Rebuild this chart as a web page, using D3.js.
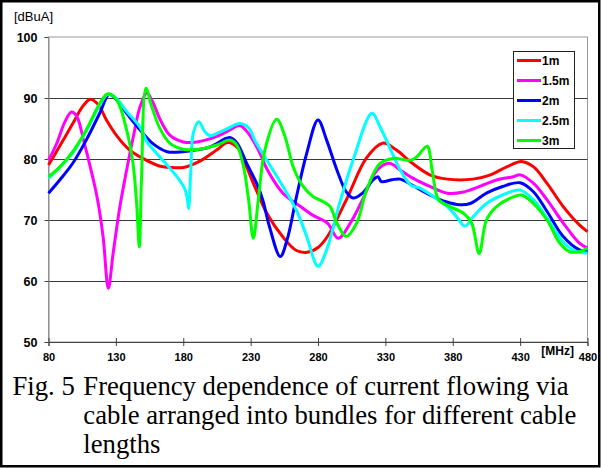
<!DOCTYPE html>
<html>
<head>
<meta charset="utf-8">
<script src="https://cdn.jsdelivr.net/npm/d3@7"></script>
<style>
    body { margin: 0; background: #fff; }
    svg { display: block; }
</style>
</head>
<body>
<svg id="chart"></svg>
<script>
// krivulje očitane sa slike: [frekvencija MHz, struja dBuA]
const series1m = [[80,79],[88,82],[98,85.8],[105,88.5],[111,89.8],[117,88.9],[123,86.4],[131,83.7],[140,81.5],[150,80.1],[163,78.8],[172,78.6],[180,78.6],[192,79.6],[205,81.5],[213,82.7],[221,81.7],[227,78.7],[234,75],[242,71.1],[254,67.2],[264,65],[272,64.7],[280,65.5],[287,67.3],[301,73.3],[316,80.2],[328,82.6],[338,81.5],[350,79.3],[363,77.4],[376,76.7],[395,76.7],[408,77.4],[420,78.7],[431,79.6],[440,78.7],[450,76],[462,72.2],[474,69.2],[480,68.1]];
const series15m = [[80,79.8],[86,82.5],[92,86],[97,87.7],[101,87],[106,83.1],[111,78.7],[116,73.8],[120.5,67.3],[124.4,58.8],[128,64.6],[133,72.2],[138,78.2],[143,83.7],[148,88.6],[153,90.8],[157,89.5],[163,86.4],[170,83.9],[180,82.8],[190,82.8],[205,83.7],[215,84.8],[222,85.5],[229,84],[237,80.9],[242,78.4],[254,74.4],[267,72.2],[276,70.8],[287,69.5],[295,67],[304,69.5],[313,73.3],[324,78.2],[333,79.3],[341,78.2],[350,76.9],[363,75.5],[376,74.4],[388,74.6],[400,75.5],[413,76.6],[425,77.1],[430,77.4],[440,76],[450,73.3],[462,69.5],[474,66.2],[480,65.4]];
const series2m = [[80,74.4],[88.5,76.6],[98,79.3],[108,83.1],[118,87.5],[125,90.6],[130,89.8],[138,87.5],[148,84.75],[157,82.6],[168,81.2],[180,81.2],[190,81.5],[200,82],[212,83.4],[215,83.5],[220,82.6],[227,79.3],[234.5,76],[239,73.3],[244,68.9],[252,64],[257,66.7],[264,73.8],[271.6,80.9],[280,86.4],[286.4,83.1],[294,78.2],[301,74.6],[306,73.6],[313,74.4],[321,76.6],[324.5,77.1],[327,76.3],[335,76.6],[341,76.7],[350,75.7],[363,74.1],[375,73],[385,72.5],[393,72.7],[405,74.4],[417,75.5],[430,76.1],[440,74.6],[450,71.4],[462,67.3],[474,65.1],[480,64.8]];
const series25m = [[80,76.8],[88.5,78.7],[98,81],[108,84.6],[118,88.8],[124,90.6],[130,90],[138,87.8],[148,85.2],[153,82.8],[160,81],[170,78.5],[177,76.6],[181,75.2],[183,73.5],[184,71.9],[185.5,77.6],[187.5,84.3],[191.5,86.1],[196,84.5],[200,83.8],[205,84.2],[213,85],[222,85.8],[229,85],[233,83.1],[242,79.8],[254,75.5],[264,71.6],[271.6,67.3],[280,62.4],[286.4,65.1],[296,72.7],[306,79.8],[320,87.5],[326,85.3],[333,82],[341,78.2],[349,75.7],[356,75.2],[366,73.8],[376,72.2],[383,70.5],[389,69],[395,70.5],[405,72.7],[417,74.1],[430,74.9],[440,73.3],[450,70.3],[462,66.4],[472,64.8],[480,64.6]];
const series3m = [[80,77.1],[88.5,78.7],[98,81.2],[108,84.75],[118,89.1],[124,90.7],[130.6,89.7],[138,84.75],[142.7,79.3],[145.4,72.7],[147.4,65.6],[149,76.6],[152.3,91.6],[156.6,88.6],[162.7,85],[170,82.6],[180,81.6],[192,81.6],[205,82.3],[214.7,83.1],[219.6,82.3],[224.5,79],[228.4,73.5],[232,67],[235.7,73.3],[240.6,81.5],[249.3,86.5],[255.5,83.7],[261.6,78.7],[269,75.5],[276.5,73.8],[284,73],[289,72.2],[294,69.5],[301,67.3],[308.7,69.5],[316,74.9],[326,79.3],[336,80.1],[348.6,79.8],[353.5,80.4],[361,82.1],[364.7,78.2],[369.6,73.3],[378,72.2],[388,71.1],[394,69.5],[399.6,64.5],[405,70],[412.5,72.2],[425,73.8],[431,74.1],[440,72.7],[450,70],[459.5,66.2],[467,64.8],[474,64.8],[480,65.4]];

const seriesNames = ['1m', '1.5m', '2m', '2.5m', '3m'];
const seriesColors = ['#ff0000', '#ff00ff', '#0000ff', '#00ffff', '#00ff00'];
const xTicks = [80, 130, 180, 230, 280, 330, 380, 430, 480];
const yTicks = [50, 60, 70, 80, 90, 100];
const captionLines = [
    'Frequency dependence of current flowing via',
    'cable arranged into bundles for different cable',
    'lengths'
];

const allSeries = [series1m, series15m, series2m, series25m, series3m];

const W = 601, H = 468;
const plotLeft = 48.5, plotRight = 587.5, plotTop = 37, plotBottom = 342;

const svg = d3.select('#chart')
    .attr('width', W)
    .attr('height', H);

svg.append('rect')
    .attr('x', 1.25).attr('y', 1.25)
    .attr('width', W - 3).attr('height', H - 3)
    .attr('fill', '#fff')
    .attr('stroke', '#000')
    .attr('stroke-width', 2.5);

const x = d3.scaleLinear().domain([80, 480]).range([plotLeft, plotRight]);
const y = d3.scaleLinear().domain([50, 100]).range([plotBottom, plotTop]);

// okvir površine grafa
svg.append('rect')
    .attr('x', plotLeft).attr('y', plotTop)
    .attr('width', plotRight - plotLeft).attr('height', plotBottom - plotTop)
    .attr('fill', 'none')
    .attr('stroke', '#999')
    .attr('stroke-width', 1);

// mreža
svg.selectAll('.grid')
    .data(yTicks.filter(d => d > 50 && d < 100))
    .enter()
    .append('line')
    .attr('class', 'grid')
    .attr('x1', plotLeft).attr('x2', plotRight)
    .attr('y1', d => Math.round(y(d)) + 0.5)
    .attr('y2', d => Math.round(y(d)) + 0.5)
    .attr('stroke', '#3a3a3a')
    .attr('stroke-width', 1);

// y os
const yAxis = svg.append('g')
    .attr('transform', `translate(${plotLeft},0)`)
    .call(d3.axisLeft(y).tickValues(yTicks).tickSize(4).tickPadding(7).tickFormat(d3.format('d')));
yAxis.select('.domain').attr('stroke', '#888');
yAxis.selectAll('.tick line').attr('stroke', '#444');
yAxis.selectAll('text')
    .attr('font-family', 'Liberation Sans, Arial, sans-serif')
    .attr('font-size', 12.5)
    .attr('font-weight', 'bold')
    .attr('fill', '#000');

// x os
const xAxis = svg.append('g')
    .attr('transform', `translate(0,${plotBottom})`)
    .call(d3.axisBottom(x).tickValues(xTicks).tickSize(4).tickPadding(7).tickFormat(d3.format('d')));
xAxis.select('.domain').attr('stroke', '#444');
xAxis.selectAll('.tick line').attr('stroke', '#444').attr('y1', -4);
xAxis.selectAll('text')
    .attr('font-family', 'Liberation Sans, Arial, sans-serif')
    .attr('font-size', 11)
    .attr('font-weight', 'bold')
    .attr('fill', '#000');

svg.append('text')
    .attr('x', 14).attr('y', 21)
    .attr('font-family', 'Liberation Sans, Arial, sans-serif')
    .attr('font-size', 13)
    .text('[dBuA]');

svg.append('text')
    .attr('x', 574).attr('y', 355)
    .attr('text-anchor', 'end')
    .attr('font-family', 'Liberation Sans, Arial, sans-serif')
    .attr('font-size', 12)
    .attr('font-weight', 'bold')
    .text('[MHz]');

// krivulje
const line = d3.line()
    .x(d => x(d[0]))
    .y(d => y(d[1]))
    .curve(d3.curveCatmullRom.alpha(0.5));

svg.append('g')
    .selectAll('path')
    .data(allSeries)
    .enter()
    .append('path')
    .attr('d', line)
    .attr('fill', 'none')
    .attr('stroke', (d, i) => seriesColors[i])
    .attr('stroke-width', 3)
    .attr('stroke-linejoin', 'round');

// legenda
const legend = svg.append('g')
    .attr('transform', 'translate(513,51)');

legend.append('rect')
    .attr('x', 0.5).attr('y', 0.5)
    .attr('width', 61).attr('height', 97)
    .attr('fill', '#fff')
    .attr('stroke', '#222');

const items = legend.selectAll('.item')
    .data(seriesNames)
    .enter()
    .append('g')
    .attr('class', 'item')
    .attr('transform', (d, i) => `translate(0,${9.5 + i * 20})`);

items.append('line')
    .attr('x1', 4).attr('x2', 28)
    .attr('stroke', (d, i) => seriesColors[i])
    .attr('stroke-width', 3);

items.append('text')
    .attr('x', 29).attr('y', 4.5)
    .attr('font-family', 'Liberation Sans, Arial, sans-serif')
    .attr('font-size', 12)
    .attr('font-weight', 'bold')
    .text(d => d);

// natpis slike
const caption = svg.append('g')
    .attr('font-family', 'Liberation Serif, Times New Roman, serif')
    .attr('font-size', 26.7)
    .attr('fill', '#000');

caption.append('text')
    .attr('x', 12.5).attr('y', 395)
    .text('Fig. 5');

caption.selectAll('.cap')
    .data(captionLines)
    .enter()
    .append('text')
    .attr('class', 'cap')
    .attr('x', 83.3)
    .attr('y', (d, i) => 395 + i * 29)
    .text(d => d);
</script>
</body>
</html>
